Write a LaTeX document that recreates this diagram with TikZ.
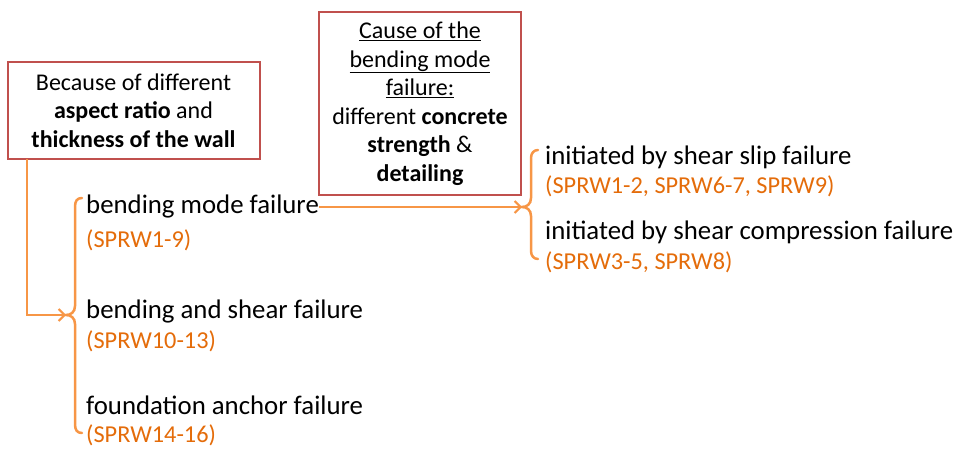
\documentclass[tikz,border=0pt]{standalone}
\usepackage{fontspec}
\setmainfont{Carlito}
\usetikzlibrary{arrows.meta}
\definecolor{lineor}{RGB}{247,150,70}
\definecolor{textor}{RGB}{228,108,10}
\definecolor{boxred}{RGB}{192,80,77}
\tikzset{
  x=1pt, y=-1pt,
  causebox/.style={draw=boxred, line width=2pt, inner sep=0pt, align=center, font=\fontsize{24}{28.5}\selectfont},
  mainlbl/.style={anchor=west, inner sep=0pt, font=\fontsize{26.8}{30}\selectfont},
  sublbl/.style={anchor=west, inner sep=0pt, text=textor, font=\fontsize{24.3}{28}\selectfont},
  conn/.style={draw=lineor, line width=2.5pt, -{Straight Barb[length=6pt,width=12pt,line width=2pt]}},
  bracel/.style={draw=lineor, line width=2.5pt, line cap=round}
}
\begin{document}
\begin{tikzpicture}
\useasboundingbox (0,0) rectangle (954,449);
% box 1
\node[causebox, minimum width=252pt, minimum height=97pt] (box1) at (133.5,110.5)
  {Because of different\\ \textbf{aspect ratio} and\\ \textbf{thickness of the wall}};
% box 2
\node[causebox, minimum width=202pt, minimum height=183pt] (box2) at (420,103.5)
  {\underline{Cause of the}\\ \underline{bending mode}\\ \underline{failure:}\\ different \textbf{concrete}\\ \textbf{strength} \&\\ \textbf{detailing}};
% left labels
\node[mainlbl] (bmf) at (86,207) {bending mode failure};
\node[sublbl] (bmfs) at (86,240) {(SPRW1-9)};
\node[mainlbl] (bsf) at (86,311) {bending and shear failure};
\node[sublbl] (bsfs) at (86,341) {(SPRW10-13)};
\node[mainlbl] (faf) at (86,405) {foundation anchor failure};
\node[sublbl] (fafs) at (86,435) {(SPRW14-16)};
% right labels
\node[mainlbl] (ssf) at (545,157) {initiated by shear slip failure};
\node[sublbl] (ssfs) at (545,186) {(SPRW1-2, SPRW6-7, SPRW9)};
\node[mainlbl] (scf) at (545,232) {initiated by shear compression failure};
\node[sublbl] (scfs) at (545,262) {(SPRW3-5, SPRW8)};
% braces
\coordinate (b1tip) at (66,315);
\coordinate (b2tip) at (522,207);
\draw[bracel] (82,198) .. controls (77,198) and (75,201) .. (75,207) -- (75,306)
  .. controls (75,312) and (71,315) .. (b1tip)
  .. controls (71,315) and (75,318) .. (75,324) -- (75,424)
  .. controls (75,430) and (77,433) .. (82,433);
\draw[bracel] (538,150) .. controls (534,150) and (531,153) .. (531,158) -- (531,198)
  .. controls (531,204) and (527,207) .. (b2tip)
  .. controls (527,207) and (531,210) .. (531,216) -- (531,251)
  .. controls (531,256) and (534,259) .. (538,259);
% connectors
\coordinate (c1) at (27,159);
\draw[conn] (c1) |- (b1tip);
\draw[conn] (bmf.east) -- (b2tip);
\end{tikzpicture}
\end{document}
